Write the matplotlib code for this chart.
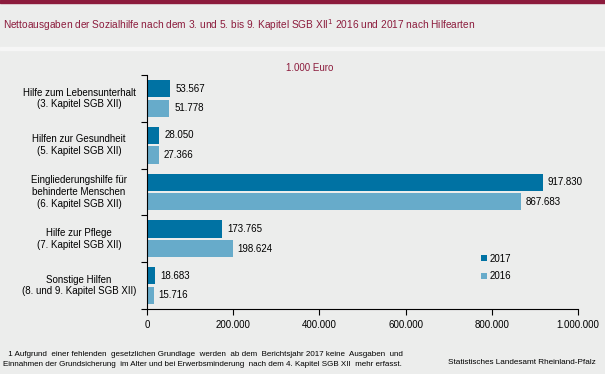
import matplotlib.pyplot as plt
import matplotlib.transforms as mtransforms
import numpy as np

# Daten (1.000 Euro)
kategorien = [
    "Hilfe zum Lebensunterhalt\n(3. Kapitel SGB XII)",
    "Hilfen zur Gesundheit\n(5. Kapitel SGB XII)",
    "Eingliederungshilfe für\nbehinderte Menschen\n(6. Kapitel SGB XII)",
    "Hilfe zur Pflege\n(7. Kapitel SGB XII)",
    "Sonstige Hilfen\n(8. und 9. Kapitel SGB XII)",
]
werte_2017 = [53567, 28050, 917830, 173765, 18683]
werte_2016 = [51778, 27366, 867683, 198624, 15716]
xticks = [0, 200000, 400000, 600000, 800000, 1000000]

bg = "#ECEDEC"
rot = "#8C1B3C"
blau_dunkel = "#0072A3"
blau_hell = "#67ABCA"

plt.rcParams["font.family"] = ["Liberation Sans", "DejaVu Sans"]

def de(v):
    return f"{v:,.0f}".replace(",", ".")

fig = plt.figure(figsize=(6.05, 3.74), dpi=100, facecolor=bg)
ax = fig.add_axes([147 / 605, 1 - 309 / 374, 431 / 605, 234 / 374])
ax.set_facecolor(bg)

# Deko-Linien oben
fig.patches.append(plt.Rectangle((0, 1 - 2.5 / 374), 1, 2.5 / 374, transform=fig.transFigure,
                                 color=rot, zorder=0))
fig.patches.append(plt.Rectangle((0, 1 - 50 / 374), 1, 3 / 374, transform=fig.transFigure,
                                 color="#F6F6F6", zorder=0))

y = np.arange(len(kategorien))
h = 0.37
b17 = ax.barh(y - 0.21, werte_2017, height=h, color=blau_dunkel, label="2017")
b16 = ax.barh(y + 0.21, werte_2016, height=h, color=blau_hell, label="2016")

off = mtransforms.offset_copy(ax.transData, fig=fig, x=5, y=0, units="dots")
for yy, v in zip(y - 0.21, werte_2017):
    ax.text(v, yy, de(v), transform=off, va="center", ha="left", fontsize=7)
for yy, v in zip(y + 0.21, werte_2016):
    ax.text(v, yy, de(v), transform=off, va="center", ha="left", fontsize=7)

ax.set_ylim(len(kategorien) - 0.5, -0.5)
ax.set_yticks(np.arange(-0.5, len(kategorien), 1))
ax.set_yticklabels([])
ax.tick_params(axis="y", length=4, width=0.8)

lab_tr = mtransforms.blended_transform_factory(fig.transFigure, ax.transData)
for yy, k in zip(y, kategorien):
    ax.text(79 / 605, yy, k, transform=lab_tr, ha="center", va="center",
            fontsize=7, linespacing=1.2)

ax.set_xlim(0, 1000000)
ax.set_xticks(xticks)
ax.set_xticklabels([de(t) for t in xticks], fontsize=7)
ax.tick_params(axis="x", length=4, width=0.8, pad=4)

for s in ["top", "right"]:
    ax.spines[s].set_visible(False)
ax.spines["left"].set_linewidth(0.8)
ax.spines["bottom"].set_linewidth(0.8)

ax.legend(handles=[b17, b16], loc="upper left", bbox_to_anchor=(472 / 605, 1 - 245 / 374),
          bbox_transform=fig.transFigure, frameon=False, fontsize=7,
          handlelength=0.6, handleheight=0.6, handletextpad=0.3, labelspacing=0.75)

fig.text(3 / 605, 1 - 25 / 374,
         "Nettoausgaben der Sozialhilfe nach dem 3. und 5. bis 9. Kapitel SGB XII$^{1}$ 2016 und 2017 nach Hilfearten",
         color=rot, fontsize=7.3, va="center", ha="left")
fig.text(310 / 605, 1 - 68 / 374, "1.000 Euro", color=rot, fontsize=7, ha="center", va="center")

fig.text(6 / 605, 1 - 355 / 374,
         " 1 Aufgrund  einer fehlenden  gesetzlichen Grundlage  werden  ab dem  Berichtsjahr 2017 keine  Ausgaben  und",
         fontsize=5.8, ha="left", va="center")
fig.text(3 / 605, 1 - 364 / 374,
         "Einnahmen der Grundsicherung  im Alter und bei Erwerbsminderung  nach dem 4. Kapitel SGB XII  mehr erfasst.",
         fontsize=5.8, ha="left", va="center")
fig.text(596 / 605, 1 - 363 / 374, "Statistisches Landesamt Rheinland-Pfalz",
         fontsize=5.9, ha="right", va="center")

fig.savefig("out.png", dpi=100, facecolor=bg)
